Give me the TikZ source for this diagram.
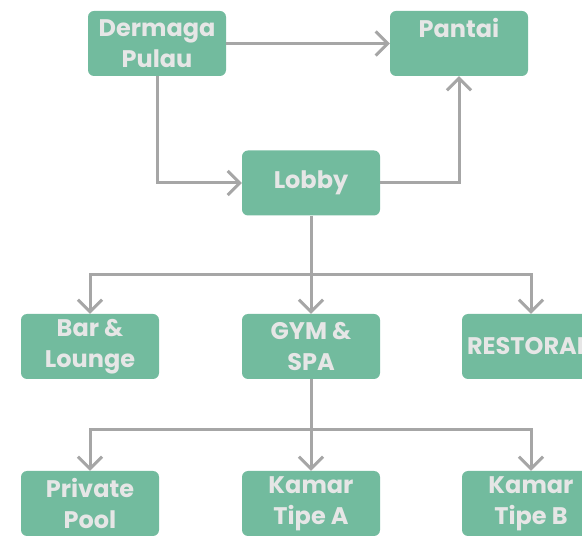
\documentclass[tikz,border=0pt]{standalone}
\usepackage{fontspec}
\setmainfont{Poppins}
\usepackage{xcolor}
\usetikzlibrary{arrows.meta}
\definecolor{boxgreen}{HTML}{72BB9E}
\definecolor{boxtext}{HTML}{E6E6E6}
\definecolor{linegray}{HTML}{A6A6A6}

\begin{document}
\begin{tikzpicture}[x=1pt,y=-1pt]
\tikzset{>={Straight Barb[width=24pt,length=12pt,line width=3pt]}}
\tikzstyle{place} =[rectangle, rounded corners=6pt, fill = boxgreen, text = boxtext, minimum width=138pt, minimum height=65pt, inner sep=0pt, align=center, font=\fontsize{24}{31}\selectfont\bfseries]
\tikzstyle{link} =[draw = linegray, line width=3pt]
\clip (0,0) rectangle (582,537);

\node[place](dermaga) at (157,43.5){Dermaga\\Pulau};
\node[place](pantai) at (459,43.5){Pantai\\\mbox{}};
\node[place](lobby) at (311,183){Lobby};
\node[place](bar) at (90,346.5){Bar \&\\Lounge};
\node[place](gym) at (311,346.5){GYM \&\\SPA};
\node[place](resto) at (531,346.5){RESTORAN};
\node[place](pool) at (90,503.5){Private\\Pool};
\node[place](kamara) at (311,503.5){Kamar\\Tipe A};
\node[place](kamarb) at (531,503.5){Kamar\\Tipe B};
\coordinate (split1) at (311,275);
\coordinate (split2) at (311,430);

\draw [->,link] (dermaga) -- (pantai);
\draw [->,link] (dermaga) |- (lobby);
\draw [->,link] (lobby) -| (pantai);
\draw [link] (lobby) -- (split1);
\draw [->,link] (split1) -| (bar);
\draw [->,link] (split1) -- (gym);
\draw [->,link] (split1) -| (resto);
\draw [link] (gym) -- (split2);
\draw [->,link] (split2) -| (pool);
\draw [->,link] (split2) -- (kamara);
\draw [->,link] (split2) -| (kamarb);
\end{tikzpicture}
\end{document}
